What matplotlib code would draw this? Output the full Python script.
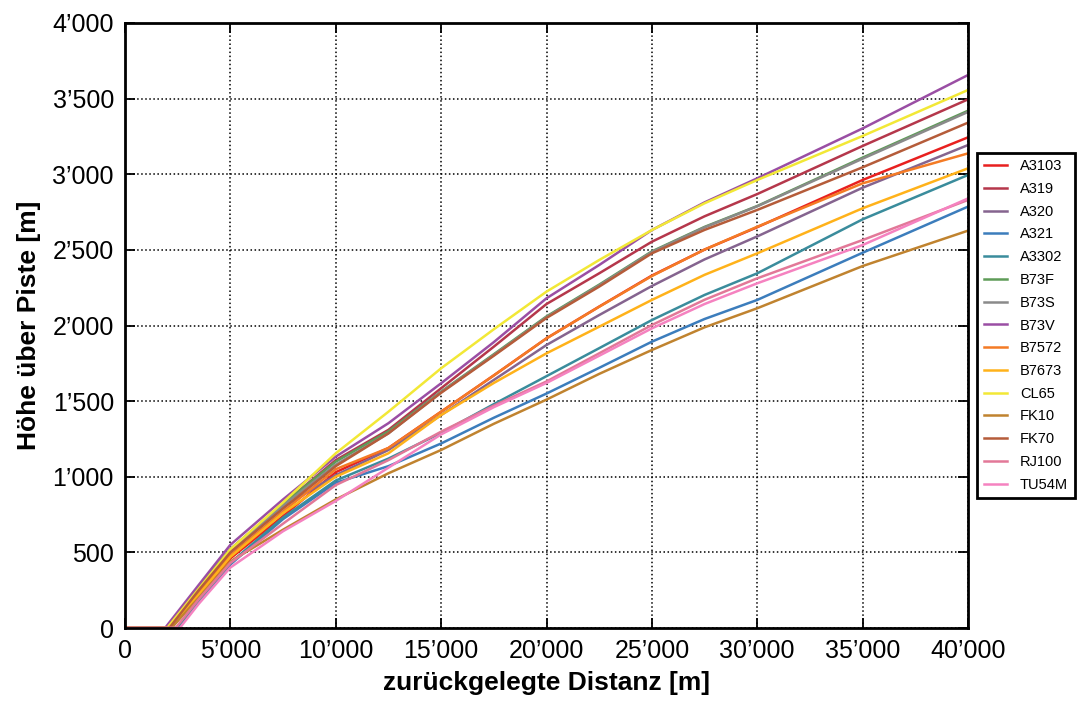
import matplotlib
matplotlib.use("Agg")
import matplotlib.pyplot as plt
from matplotlib.ticker import FuncFormatter, MultipleLocator

plt.rcParams['font.family'] = ['Liberation Sans', 'DejaVu Sans']

# distance points (m) after lift-off
dist = [3500, 5000, 7500, 10000, 12500, 15000, 17500, 20000, 22500, 25000,
        27500, 30000, 35000, 40000]

names = ["A3103", "A319", "A320", "A321", "A3302", "B73F", "B73S", "B73V",
         "B7572", "B7673", "CL65", "FK10", "FK70", "RJ100", "TU54M"]

colors = ["#e8201f", "#b5374b", "#85648f", "#3c7dbc", "#3a8c9c", "#5e9c58",
          "#8a8a8a", "#9a4ea4", "#f47b25", "#ffb21a", "#f2e836", "#c0832f",
          "#b55c3a", "#e27898", "#f582c0"]

# distance where altitude leaves 0
liftoff = [2200, 2000, 2200, 2500, 2500, 2000, 2000, 1900,
           2100, 2100, 2000, 2200, 2100, 2400, 2600]

A3103 = [220, 460, 740, 1030, 1190, 1430, 1670, 1915, 2125, 2330, 2502, 2650, 2962, 3244]
A319  = [270, 520, 820, 1110, 1310, 1585, 1860, 2142, 2345, 2554, 2722, 2869, 3187, 3495]
A320  = [240, 500, 800, 1010, 1177, 1408, 1640, 1871, 2069, 2261, 2437, 2589, 2911, 3193]
A321  = [170, 420, 720, 960, 1070, 1220, 1390, 1550, 1720, 1893, 2043, 2169, 2481, 2786]
A3302 = [180, 430, 730, 975, 1120, 1290, 1480, 1665, 1850, 2036, 2202, 2345, 2702, 2995]
B73F  = [270, 520, 820, 1100, 1300, 1563, 1810, 2060, 2270, 2490, 2652, 2790, 3110, 3420]
B73S  = [260, 510, 810, 1080, 1287, 1560, 1805, 2055, 2265, 2486, 2649, 2788, 3103, 3412]
B73V  = [285, 550, 850, 1133, 1354, 1618, 1890, 2180, 2400, 2631, 2814, 2973, 3303, 3656]
B7572 = [240, 480, 770, 1050, 1190, 1430, 1670, 1915, 2124, 2327, 2502, 2653, 2940, 3138]
B7673 = [220, 470, 760, 1000, 1155, 1408, 1620, 1816, 1992, 2169, 2335, 2477, 2775, 3039]
CL65  = [260, 520, 830, 1155, 1430, 1717, 1975, 2224, 2433, 2631, 2808, 2962, 3253, 3557]
FK10  = [200, 440, 650, 850, 1023, 1177, 1350, 1510, 1680, 1838, 1988, 2114, 2393, 2627]
FK70  = [250, 500, 790, 1070, 1287, 1555, 1800, 2050, 2257, 2477, 2632, 2764, 3046, 3341]
RJ100 = [190, 430, 690, 945, 1110, 1298, 1470, 1630, 1816, 2003, 2170, 2312, 2565, 2830]
TU54M = [160, 400, 640, 840, 1060, 1280, 1460, 1620, 1800, 1981, 2142, 2279, 2532, 2840]

series = [A3103, A319, A320, A321, A3302, B73F, B73S, B73V,
          B7572, B7673, CL65, FK10, FK70, RJ100, TU54M]

fig = plt.figure(figsize=(10.8, 7.04), dpi=100)
ax = fig.add_axes([125/1080, 1-628/704, (968-125)/1080, (628-23)/704])

for name, col, lo, vals in zip(names, colors, liftoff, series):
    xs = [0, lo] + dist
    ys = [0, 0] + vals
    ax.plot(xs, ys, color=col, lw=1.8, label=name, solid_joinstyle='round')

ax.set_xlim(0, 40000)
ax.set_ylim(0, 4000)
ax.xaxis.set_major_locator(MultipleLocator(5000))
ax.yaxis.set_major_locator(MultipleLocator(500))

def fmt(v, pos):
    v = int(round(v))
    return f"{v:,}".replace(",", "\u2019")

ax.xaxis.set_major_formatter(FuncFormatter(fmt))
ax.yaxis.set_major_formatter(FuncFormatter(fmt))

ax.grid(True, color='black', linestyle=':', linewidth=1.1)
ax.tick_params(direction='in', length=7, width=1.3, top=True, right=True,
               labelsize=18, pad=8)
for s in ax.spines.values():
    s.set_linewidth(2.0)

ax.set_xlabel("zurückgelegte Distanz [m]", fontsize=19, fontweight='bold', labelpad=6)
ax.set_ylabel("Höhe über Piste [m]", fontsize=19, fontweight='bold', labelpad=8)

leg = ax.legend(loc='center left', bbox_to_anchor=(1.0107, 0.50), fontsize=10.5,
                fancybox=False, framealpha=1, edgecolor='black',
                handlelength=1.6, handletextpad=0.9, labelspacing=0.6,
                borderpad=0.45, borderaxespad=0)
leg.get_frame().set_linewidth(2.0)

fig.savefig("out.png", dpi=100)
